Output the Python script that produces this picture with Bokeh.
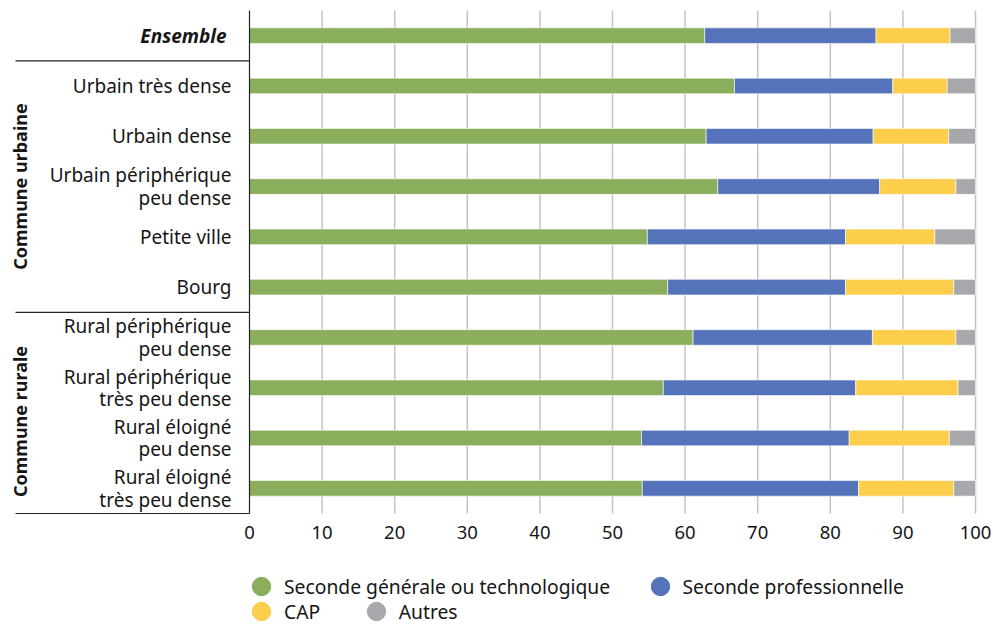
from bokeh.plotting import figure
from bokeh.models import ColumnDataSource, Range1d, Legend, LegendItem
from bokeh.core.properties import value
from bokeh.embed import file_html
from bokeh.resources import INLINE
import math

# ---------------- data ----------------
categories = ["Ensemble", "Urbain très dense", "Urbain dense",
              "Urbain périphérique\npeu dense", "Petite ville", "Bourg",
              "Rural périphérique\npeu dense", "Rural périphérique\ntrès peu dense",
              "Rural éloigné\npeu dense", "Rural éloigné\ntrès peu dense"]
generale = [62.7, 66.8, 62.9, 64.5, 54.8, 57.6, 61.1, 57.0, 54.0, 54.1]
pro = [23.6, 21.8, 23.0, 22.3, 27.3, 24.5, 24.7, 26.5, 28.6, 29.8]
cap = [10.2, 7.5, 10.4, 10.5, 12.3, 14.9, 11.5, 14.1, 13.8, 13.1]
autres = [round(100 - g - p - c, 1) for g, p, c in zip(generale, pro, cap)]
series_names = ["Seconde générale ou technologique", "Seconde professionnelle", "CAP", "Autres"]
colors = ["#8AAE5B", "#5473BA", "#FDCE4B", "#A7A8AB"]
group_labels = ["Commune urbaine", "Commune rurale"]
group_first = [1, 6]   # first category index of each group
group_last = [5, 9]
x_ticks = list(range(0, 101, 10))

# ---------------- layout ----------------
W, H = 993, 625
LEFT, RIGHT_PX = 249, 975        # pixel of x=0 and x=100
TOP, BOTTOM = 10, 513            # pixel of top / bottom of the bar area
n = len(categories)
ppx = (RIGHT_PX - LEFT) / 100.0
ppy = (BOTTOM - TOP) / n

def dx(px):
    return (px - LEFT) / ppx

def dy(py):
    return (py - TOP) / ppy - 0.5

FONT = "Noto Sans"
TXT = "#161616"

p = figure(width=W, height=H, output_backend="svg", toolbar_location=None,
           x_axis_location=None, y_axis_location=None,
           x_range=Range1d(dx(0), dx(W)), y_range=Range1d(dy(H), dy(0)))
p.min_border = 0
p.min_border_left = p.min_border_right = p.min_border_top = p.min_border_bottom = 0
p.outline_line_color = None
p.grid.visible = False

ys = list(range(n))
src = ColumnDataSource(dict(y=ys, g=generale, p=pro, c=cap, a=autres))

# vertical grid lines
grid_x = x_ticks[1:]
p.segment(x0=grid_x, x1=grid_x, y0=[-0.5] * len(grid_x), y1=[n - 0.5] * len(grid_x),
          line_color="#C4C4C4", line_width=1.5)

# bars
p.hbar_stack(["g", "p", "c", "a"], y="y", height=0.31, color=colors,
             line_color="white", line_width=0.6, source=src)

# left axis line and group separators
p.segment(x0=[0], x1=[0], y0=[-0.5], y1=[n - 0.5], line_color="#222222", line_width=1.2)
sep_y = [group_first[0] - 0.5, group_first[1] - 0.5, group_last[1] + 0.5]
p.segment(x0=[dx(15)] * 3, x1=[0] * 3, y0=sep_y, y1=sep_y, line_color="#222222", line_width=1.2)

# x tick labels
p.text(x=x_ticks, y=[dy(532)] * len(x_ticks), text=[str(t) for t in x_ticks],
       text_align="center", text_baseline="middle", text_font=value(FONT),
       text_font_size="18.5px", text_color=TXT)

# category labels
p.text(x=[dx(231)] * (n - 1), y=ys[1:], text=categories[1:], text_align="right",
       text_baseline="middle", text_font=value(FONT), text_font_size="19px",
       text_color=TXT, text_line_height=0.86)
p.text(x=[dx(226)], y=[0], text=[categories[0]], text_align="right",
       text_baseline="middle", text_font=value(FONT), text_font_size="19px",
       text_font_style="bold italic", text_color=TXT)

# group labels (rotated)
gy = [dy(186), dy(421)]
p.text(x=[dx(19)] * 2, y=gy, text=group_labels, angle=math.pi / 2,
       text_align="center", text_baseline="middle", text_font=value(FONT),
       text_font_size="18px", text_font_style="bold", text_color=TXT)

# legend
nan = float("nan")
dummy = [p.scatter(x=[nan], y=[nan], marker="circle", size=18, fill_color=c, line_color=c)
         for c in colors]
G = 46
cx = [261, 659.5, 261, 375.7]
cy = [586.0, 586.0, 611.0, 611.0]
for name, r, x0, y0 in zip(series_names, dummy, cx, cy):
    leg = Legend(items=[LegendItem(label=name, renderers=[r])],
                 location=(x0 - G / 2, H - (y0 + G / 2)),
                 padding=0, margin=0, spacing=0, glyph_width=G, glyph_height=G,
                 label_height=G, label_standoff=0, border_line_color=None,
                 background_fill_alpha=0, label_text_font=FONT,
                 label_text_font_size="19.3px", label_text_color=TXT)
    p.add_layout(leg)

open("out.html", "w").write(file_html(p, INLINE))
